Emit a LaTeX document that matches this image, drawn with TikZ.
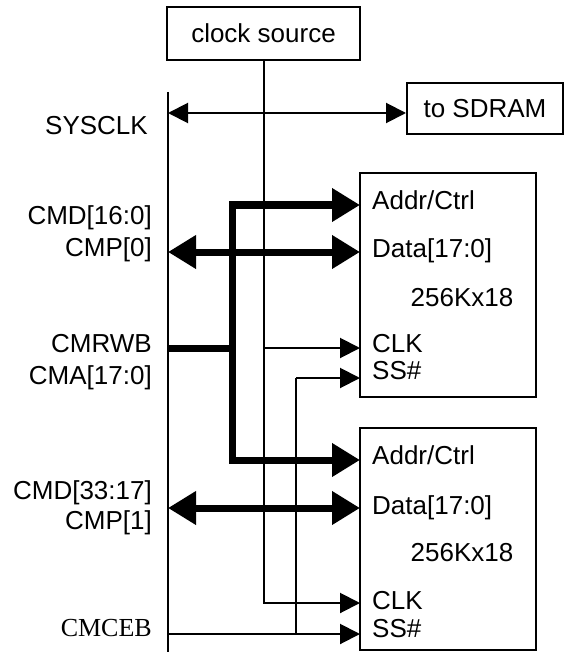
\documentclass[tikz,border=0pt]{standalone}
\usepackage{fontspec}
\setmainfont{Liberation Sans}
\newfontfamily\timesfont{Liberation Serif}
\usetikzlibrary{arrows.meta, calc}

\tikzset{
    box/.style={draw, line width=2pt, inner sep=0pt},
    sig/.style={anchor=base east, inner sep=0pt},
    pin/.style={anchor=base west, inner sep=0pt},
    wire/.style={line width=2pt},
    wirearrow/.style={wire, -{Triangle[length=20pt,width=20pt]}},
    bus/.style={line width=7pt},
    busarrow/.style={bus, -{Triangle[length=28pt,width=32pt]}},
}

\begin{document}
\begin{tikzpicture}[x=1pt, y=-1pt, font=\fontsize{26}{30}\selectfont]
    \useasboundingbox (0,0) rectangle (564,652);

    % boxes
    \node[box, minimum width=193pt, minimum height=53pt] (clock) at (263.5,33.5) {clock source};
    \node[box, minimum width=156pt, minimum height=51pt] (sdram) at (485,108.5) {to SDRAM};
    \node[box, minimum width=176pt, minimum height=224pt] (memA) at (448,285) {};
    \node[box, minimum width=176pt, minimum height=222pt] (memB) at (448,539) {};

    % left bus line
    \path (168,92)  coordinate (top);
    \path (168,652) coordinate (bot);
    \draw[wire] (top) -- (bot);

    % pins of the two memories
    \path (360,205) coordinate (addrA);
    \path (360,252) coordinate (dataA);
    \path (360,348) coordinate (clkA);
    \path (360,378) coordinate (ssA);
    \path (360,460) coordinate (addrB);
    \path (360,508) coordinate (dataB);
    \path (360,603) coordinate (clkB);
    \path (360,634) coordinate (ssB);

    \node[pin] (addrAt) at (372,209.5) {Addr/Ctrl};
    \node[pin] (dataAt) at (372,257.5) {Data[17:0]};
    \node[pin] (clkAt)  at (372,352.5) {CLK};
    \node[pin] (ssAt)   at (372,379.5) {SS\#};
    \node[anchor=base, inner sep=0pt] (sizeA) at (462,306.5) {256Kx18};

    \node[pin] (addrBt) at (372,464.5) {Addr/Ctrl};
    \node[pin] (dataBt) at (372,514.5) {Data[17:0]};
    \node[pin] (clkBt)  at (372,609.5) {CLK};
    \node[pin] (ssBt)   at (372,637.5) {SS\#};
    \node[anchor=base, inner sep=0pt] (sizeB) at (462,561.5) {256Kx18};

    % signal names
    \node[sig] (sysclk) at (148,134.5) {SYSCLK};
    \node[sig] (cmdA)   at (152,224.5) {CMD[16:0]};
    \node[sig] (cmpA)   at (152,256.5) {CMP[0]};
    \node[sig] (cmrwb)  at (152,352.5) {CMRWB};
    \node[sig] (cma)    at (152,384.5) {CMA[17:0]};
    \node[sig] (cmdB)   at (152,499.5) {CMD[33:17]};
    \node[sig] (cmpB)   at (152,529.5) {CMP[1]};
    \node[sig, font=\timesfont\fontsize{26}{30}\selectfont] (cmceb) at (152,636.5) {CMCEB};

    % clock
    \path (168,113) coordinate (clkin);
    \draw[wire, {Triangle[length=20pt,width=20pt]}-{Triangle[length=20pt,width=20pt]}]
        (clkin) -- (clkin -| sdram.west);
    \draw[wirearrow] (clock.south) |- (clkB);
    \draw[wirearrow] (clock.south |- clkA) -- (clkA);

    % address bus
    \path (232,348) coordinate (split);
    \draw[bus] (168,348) -- (split);
    \draw[busarrow] (split) |- (addrA);
    \draw[busarrow] (split) |- (addrB);

    % data buses
    \draw[bus, {Triangle[length=28pt,width=32pt]}-{Triangle[length=28pt,width=32pt]}]
        (top |- dataA) -- (dataA);
    \draw[bus, {Triangle[length=28pt,width=32pt]}-{Triangle[length=28pt,width=32pt]}]
        (top |- dataB) -- (dataB);

    % chip select
    \path (296,378) coordinate (ssjoin);
    \draw[wirearrow] (top |- ssB) -- (ssB);
    \draw[wire] (ssjoin |- ssB) -- (ssjoin);
    \draw[wirearrow] (ssjoin) -- (ssA);
\end{tikzpicture}
\end{document}
